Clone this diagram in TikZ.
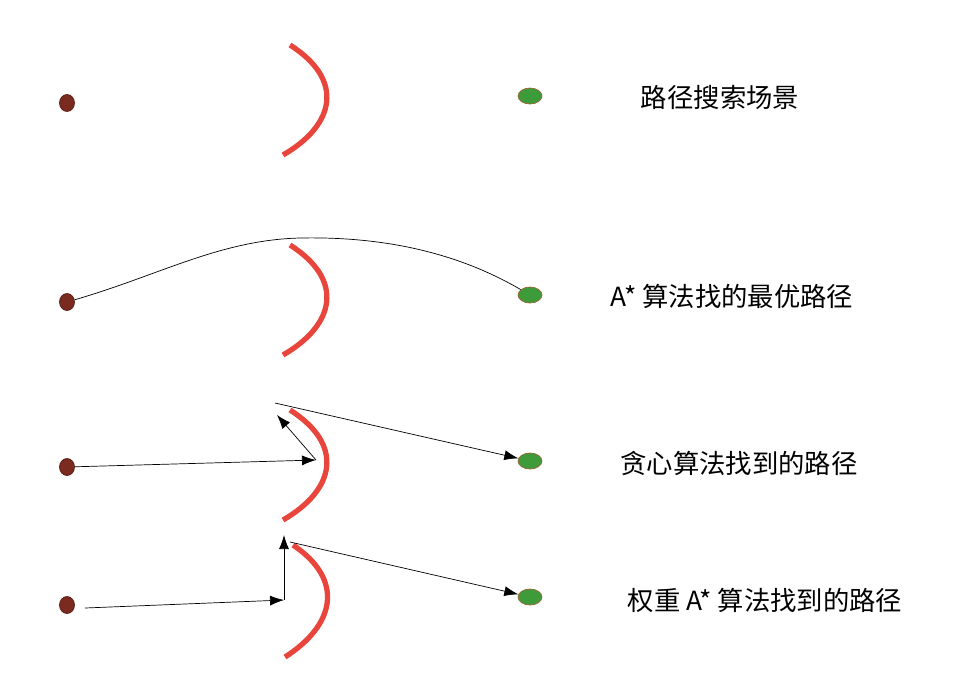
\documentclass[tikz,border=0pt]{standalone}
\usepackage{fontspec}
\setmainfont{Noto Sans CJK SC}
\usetikzlibrary{positioning,shapes.geometric,arrows.meta}
\definecolor{wallred}{HTML}{E8453C}
\definecolor{startbrown}{HTML}{7A2A1E}
\definecolor{goalgreen}{HTML}{3E9B3A}
\tikzset{
  start/.style={ellipse,draw=startbrown!70!black,fill=startbrown,minimum width=0.3cm,minimum height=0.34cm,inner sep=0pt},
  goal/.style={ellipse,draw=brown!80!black,fill=goalgreen,minimum width=0.48cm,minimum height=0.32cm,inner sep=0pt},
  wall/.style={wallred,line width=3pt},
  label/.style={font=\fontsize{15}{17}\selectfont,anchor=center},
  path/.style={thin,-{Latex[length=2.8mm,width=2mm]}},
}
\begin{document}
\begin{tikzpicture}[x=0.02cm,y=-0.02cm]
    \useasboundingbox (0,0) rectangle (966,680);
    % row 1
    \node[start] (s1) at (67,103) {};
    \node[goal] (g1) at (530,96) {};
    \draw[wall] (290,45) .. controls (345,80) and (335,125) .. (283,155);
    \node[label] (t1) at (720,97) {路径搜索场景};
    % row 2
    \node[start] (s2) at (67,302) {};
    \node[goal] (g2) at (530,295) {};
    \draw[wall] (290,245) .. controls (345,280) and (335,325) .. (283,355);
    \draw[thin] (s2) .. controls (160,275) and (220,240) .. (300,238)
       .. controls (400,236) and (470,260) .. (g2);
    \node[label] (t2) at (732,296) {A* 算法找的最优路径};
    % row 3
    \node[start] (s3) at (67,467) {};
    \node[goal] (g3) at (530,461) {};
    \draw[wall] (290,410) .. controls (345,445) and (335,490) .. (283,520);
    \coordinate (h3) at (316,460);
    \coordinate (c3) at (277,415);
    \coordinate (e3) at (275,403);
    \draw[path] (s3) -- (h3);
    \draw[path] (h3) -- (c3);
    \draw[path] (e3) -- (g3);
    \node[label] (t3) at (739,463) {贪心算法找到的路径};
    % row 4
    \node[start] (s4) at (67,605) {};
    \node[goal] (g4) at (530,597) {};
    \draw[wall] (293,545) .. controls (345,580) and (335,625) .. (285,657);
    \coordinate (a4) at (85,608);
    \coordinate (h4) at (284,600);
    \coordinate (c4) at (284,535);
    \coordinate (e4) at (290,542);
    \draw[path] (a4) -- (h4);
    \draw[path] (h4) -- (c4);
    \draw[path] (e4) -- (g4);
    \node[label] (t4) at (765,600) {权重 A* 算法找到的路径};
\end{tikzpicture}
\end{document}
